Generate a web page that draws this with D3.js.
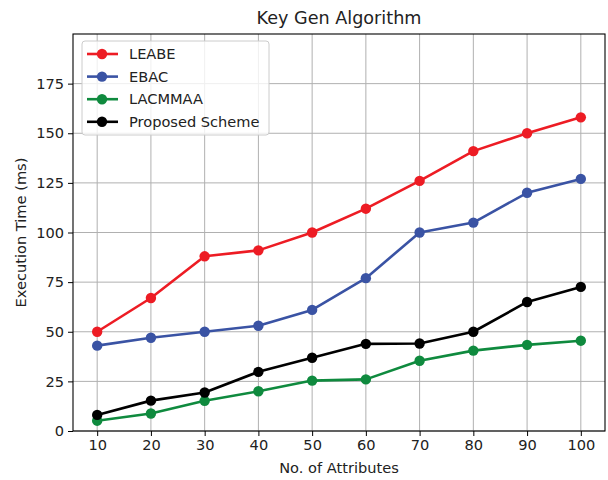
<!DOCTYPE html>
<html><head><meta charset="utf-8">
<script src="https://cdn.jsdelivr.net/npm/d3@7"></script>
<style>body{margin:0;background:#fff;} text{font-family:"DejaVu Sans",sans-serif;fill:#222;}</style>
</head><body><svg id="c" width="608" height="480"></svg>
<script>
const attributes = [10,20,30,40,50,60,70,80,90,100];
const leabe = [50,67,88,91,100,112,126,141,150,158];
const ebac = [43,47,50,53,61,77,100,105,120,127];
const lacmmaa = [5.2,8.8,15.2,20,25.4,26,35.4,40.5,43.4,45.5];
const proposed = [8.1,15.3,19.4,29.8,36.9,43.9,44.1,50,65,72.6];
const yTicks = [0,25,50,75,100,125,150,175];
const seriesNames = ["LEABE","EBAC","LACMMAA","Proposed Scheme"];
const seriesColors = ["#ed1c24","#3a53a4","#0f8a3e","#000000"];
const seriesData = [leabe, ebac, lacmmaa, proposed];

const FS = "14.6px";
const svg = d3.select("#c");
const L=73, R=605, T=34, B=431;
const x = d3.scaleLinear().domain([5.5,104.5]).range([L,R]);
const y = d3.scaleLinear().domain([0,200]).range([B,T]);

// grid
const g = svg.append("g");
g.selectAll(".gx").data(attributes).enter().append("line")
 .attr("x1",d=>x(d)).attr("x2",d=>x(d)).attr("y1",T).attr("y2",B)
 .attr("stroke","#b0b0b0").attr("stroke-width",1);
g.selectAll(".gy").data(yTicks).enter().append("line")
 .attr("x1",L).attr("x2",R).attr("y1",d=>y(d)).attr("y2",d=>y(d))
 .attr("stroke","#b0b0b0").attr("stroke-width",1);

// axes
const xa = svg.append("g").attr("transform",`translate(0,${B})`)
 .call(d3.axisBottom(x).tickValues(attributes).tickSize(5).tickSizeOuter(0).tickPadding(4));
const ya = svg.append("g").attr("transform",`translate(${L},0)`)
 .call(d3.axisLeft(y).tickValues(yTicks).tickSize(5).tickSizeOuter(0).tickPadding(4));
[xa,ya].forEach(a=>{a.select(".domain").remove();a.selectAll("line").attr("stroke","#000");
 a.selectAll("text").attr("font-size",FS).attr("font-family","DejaVu Sans").attr("fill","#222");});

// series
seriesData.forEach((s,i)=>{
 const line = d3.line().x((d,j)=>x(attributes[j])).y(d=>y(d));
 svg.append("path").datum(s).attr("d",line).attr("fill","none")
  .attr("stroke",seriesColors[i]).attr("stroke-width",2.6).attr("stroke-linejoin","round");
 svg.selectAll(null).data(s).enter().append("circle")
  .attr("cx",(d,j)=>x(attributes[j])).attr("cy",d=>y(d)).attr("r",5.2)
  .attr("fill",seriesColors[i]);
});

// frame
svg.append("rect").attr("x",L).attr("y",T).attr("width",R-L).attr("height",B-T)
 .attr("fill","none").attr("stroke","#000").attr("stroke-width",1.1);

// title & labels
svg.append("text").attr("x",(L+R)/2).attr("y",24).attr("text-anchor","middle")
 .attr("font-size","17.6px").text("Key Gen Algorithm");
svg.append("text").attr("x",(L+R)/2).attr("y",473).attr("text-anchor","middle")
 .attr("font-size",FS).text("No. of Attributes");
svg.append("text").attr("transform",`translate(26,${(T+B)/2}) rotate(-90)`).attr("text-anchor","middle")
 .attr("font-size",FS).text("Execution Time (ms)");

// legend
const lg = svg.append("g");
lg.append("rect").attr("x",82).attr("y",41).attr("width",187).attr("height",94).attr("rx",3)
 .attr("fill","#fff").attr("fill-opacity",0.8).attr("stroke","#ccc");
seriesNames.forEach((n,i)=>{
 const yy = 54 + i*22.6;
 lg.append("line").attr("x1",87).attr("x2",118).attr("y1",yy).attr("y2",yy)
  .attr("stroke",seriesColors[i]).attr("stroke-width",2.6);
 lg.append("circle").attr("cx",102).attr("cy",yy).attr("r",5.2).attr("fill",seriesColors[i]);
 lg.append("text").attr("x",129).attr("y",yy+5).attr("font-size",FS).text(n);
});
</script></body></html>
